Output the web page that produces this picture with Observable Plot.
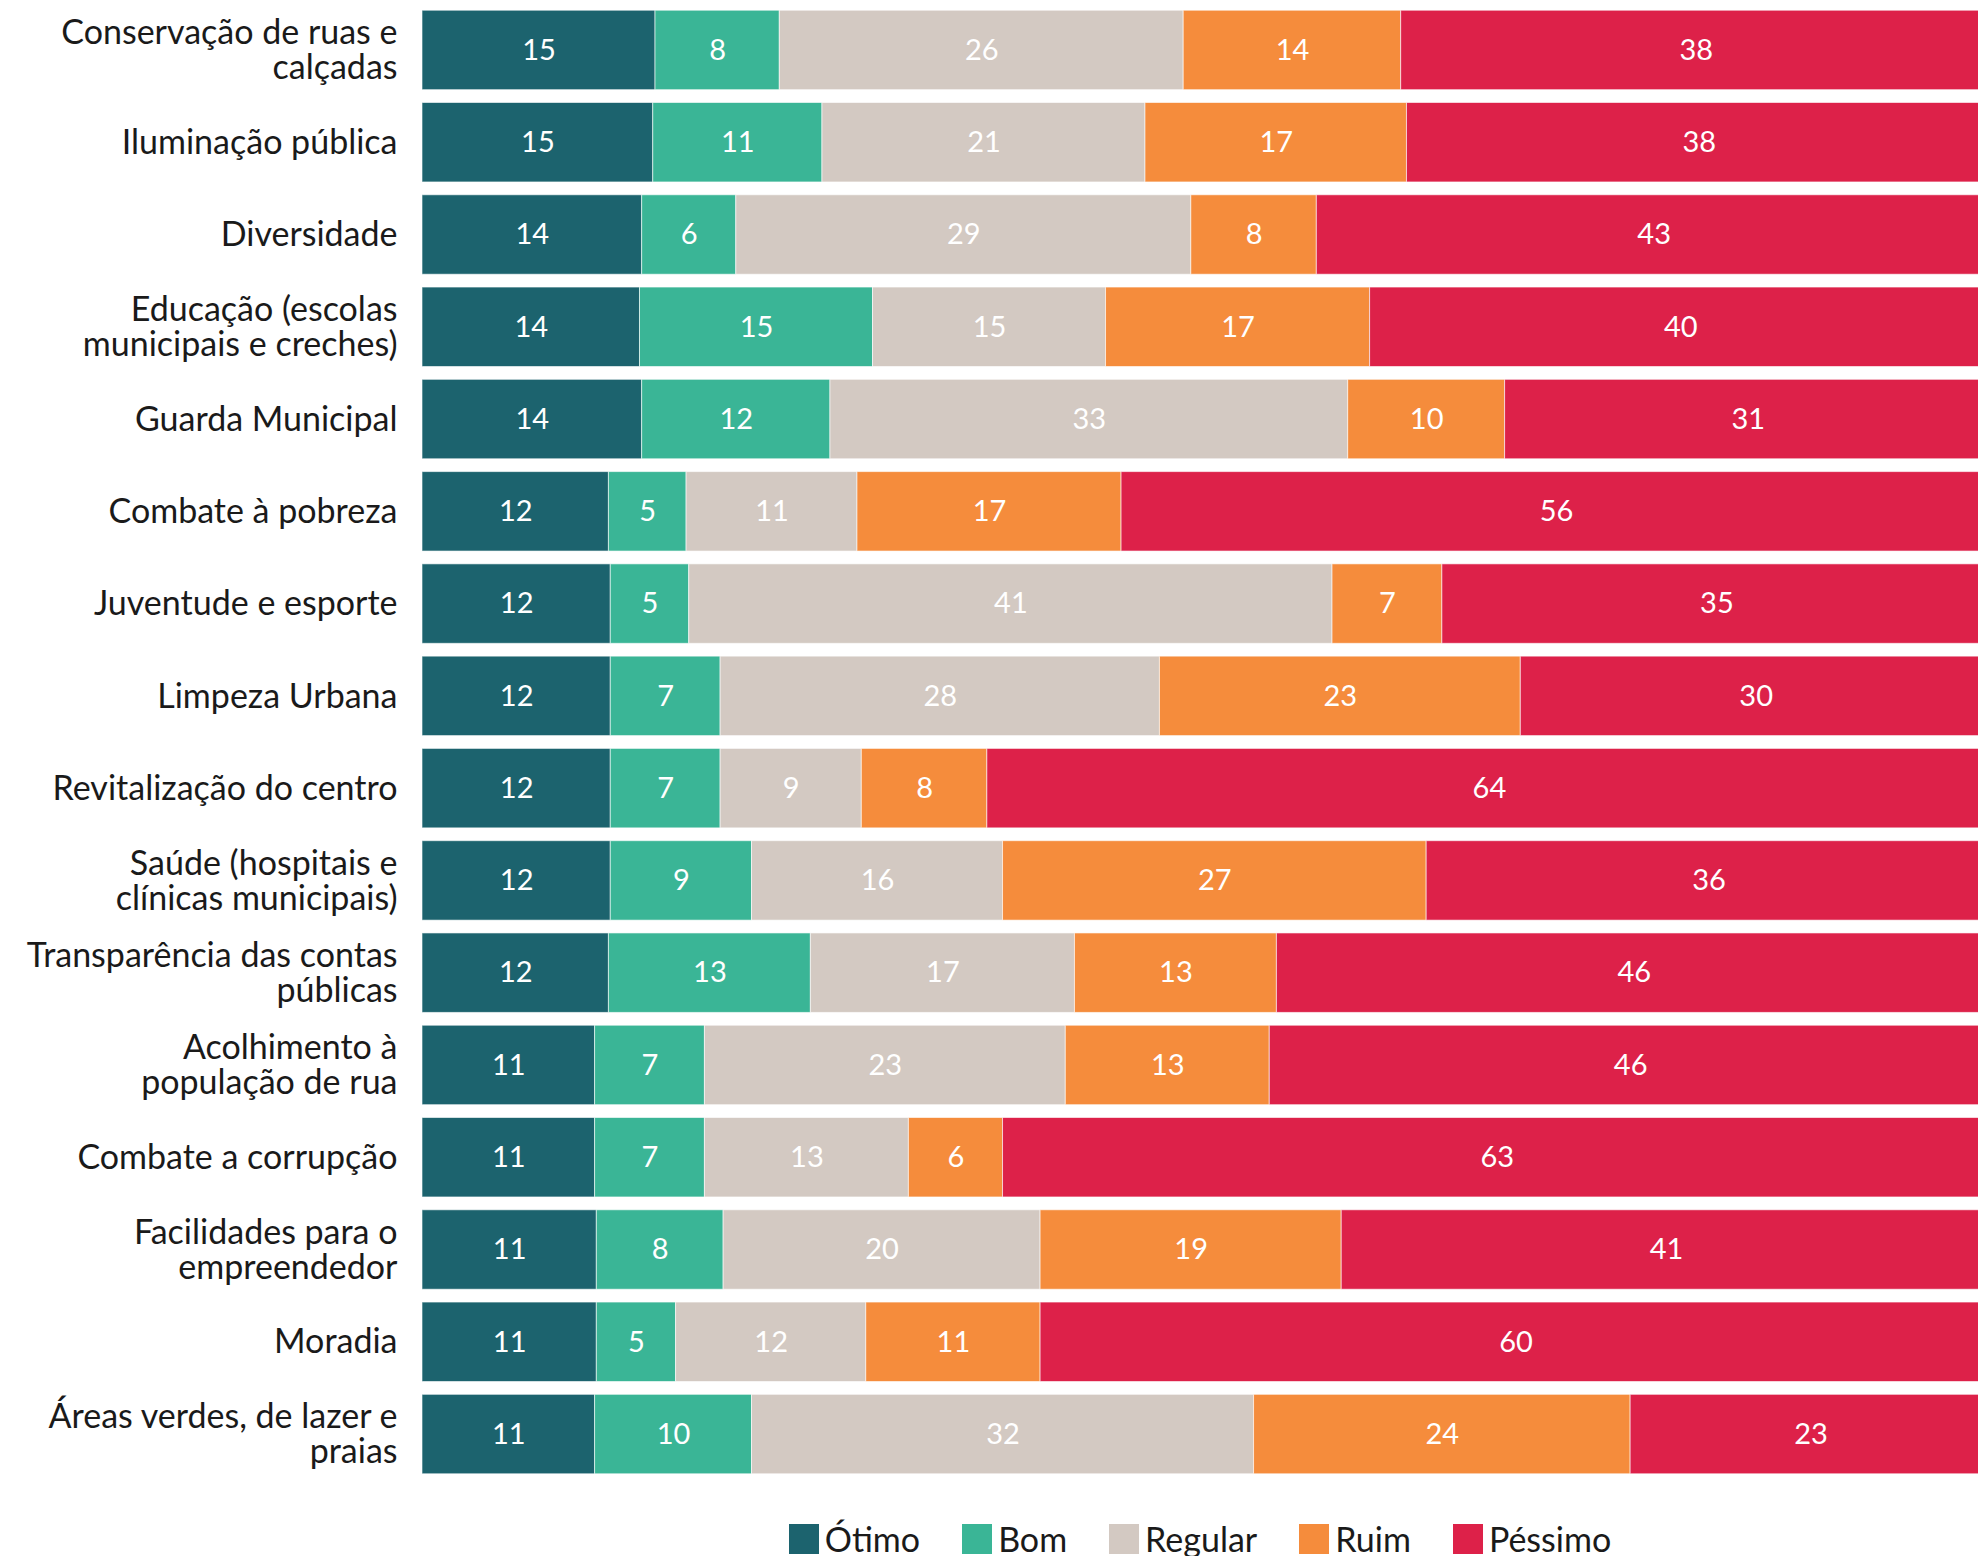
<!DOCTYPE html>
<html>
<head>
<meta charset="utf-8">
<script src="https://cdn.jsdelivr.net/npm/d3@7"></script>
<script src="https://cdn.jsdelivr.net/npm/@observablehq/plot@0.6"></script>
<style>
  html, body { margin: 0; padding: 0; background: #fff; overflow: hidden; }
  body { font-family: Lato, "Noto Sans", sans-serif; width: 1978px; }
  #chart svg { overflow: hidden; }
  #legend { display: flex; justify-content: center; align-items: center; margin-left: 422px; width: 1556px; padding-top: 22px; }
  .item { display: flex; align-items: center; margin: 0 21px; font-size: 34px; color: #1a1a1a; line-height: 1; }
  .sw { width: 30px; height: 30px; margin-right: 6px; }
</style>
</head>
<body>
<div id="chart"></div>
<div id="legend"></div>
<script>
const categories = [
  "Conservação de ruas e\ncalçadas",
  "Iluminação pública",
  "Diversidade",
  "Educação (escolas\nmunicipais e creches)",
  "Guarda Municipal",
  "Combate à pobreza",
  "Juventude e esporte",
  "Limpeza Urbana",
  "Revitalização do centro",
  "Saúde (hospitais e\nclínicas municipais)",
  "Transparência das contas\npúblicas",
  "Acolhimento à\npopulação de rua",
  "Combate a corrupção",
  "Facilidades para o\nempreendedor",
  "Moradia",
  "Áreas verdes, de lazer e\npraias"
];
const levels = ["Ótimo", "Bom", "Regular", "Ruim", "Péssimo"];
const colors = ["#1c636e", "#3ab596", "#d3c9c2", "#f58c3c", "#dd2149"];
const otimo   = [15, 15, 14, 14, 14, 12, 12, 12, 12, 12, 12, 11, 11, 11, 11, 11];
const bom     = [ 8, 11,  6, 15, 12,  5,  5,  7,  7,  9, 13,  7,  7,  8,  5, 10];
const regular = [26, 21, 29, 15, 33, 11, 41, 28,  9, 16, 17, 23, 13, 20, 12, 32];
const ruim    = [14, 17,  8, 17, 10, 17,  7, 23,  8, 27, 13, 13,  6, 19, 11, 24];
const pessimo = [38, 38, 43, 40, 31, 56, 35, 30, 64, 36, 46, 46, 63, 41, 60, 23];

const series = [otimo, bom, regular, ruim, pessimo];
const data = [];
categories.forEach((c, i) => {
  levels.forEach((l, j) => data.push({cat: c, level: l, value: series[j][i]}));
});

const stackOpts = {x: "value", y: "cat", z: "level", offset: "normalize", order: levels};

const chart = Plot.plot({
  width: 1978,
  height: 1500,
  marginLeft: 422,
  marginRight: 0,
  marginTop: 1,
  marginBottom: 17,
  style: {fontFamily: "Lato, 'Noto Sans', sans-serif", background: "#fff", overflow: "hidden"},
  x: {axis: null, range: [422, 1991]},
  y: {axis: null, domain: categories, paddingInner: 0.139, paddingOuter: 0.1, round: false},
  color: {domain: levels, range: colors},
  marks: [
    Plot.barX(data, Plot.stackX({...stackOpts, fill: "level", stroke: "white", strokeWidth: 1, strokeOpacity: 0.6})),
    Plot.text(data, Plot.stackX({...stackOpts, text: "value", fill: "white", fontSize: 29})),
    Plot.text(categories, {y: d => d, text: d => d, frameAnchor: "left", textAnchor: "end", dx: -25, fontSize: 34, fill: "#1a1a1a", lineHeight: 1.03})
  ]
});
document.getElementById("chart").appendChild(chart);

const legend = document.getElementById("legend");
levels.forEach((l, i) => {
  const item = document.createElement("div");
  item.className = "item";
  const sw = document.createElement("div");
  sw.className = "sw";
  sw.style.background = colors[i];
  const t = document.createElement("span");
  t.textContent = l;
  item.appendChild(sw);
  item.appendChild(t);
  legend.appendChild(item);
});
</script>
</body>
</html>
